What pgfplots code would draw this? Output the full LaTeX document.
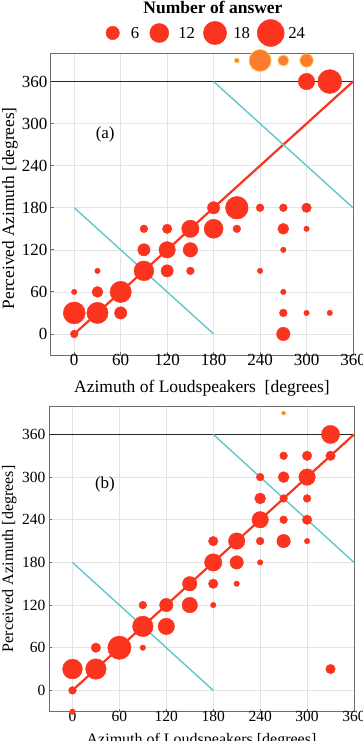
\documentclass[border=0pt]{standalone}
\usepackage{fontspec}
\setmainfont{Liberation Serif}
\usepackage{pgfplots}
\pgfplotsset{compat=1.18}
\usepackage{pgfplotstable}

\definecolor{bubred}{RGB}{250,52,30}
\definecolor{bubor}{RGB}{252,125,48}
\definecolor{bubedge}{RGB}{255,205,90}
\definecolor{cyanl}{RGB}{95,200,205}
\definecolor{boxg}{RGB}{110,110,110}
\definecolor{gridg}{RGB}{228,228,228}

% panel (a): loudspeaker azimuth, perceived azimuth, number of answers
\pgfplotstableread{
x y n
0 0 2
0 30 16
0 60 1
30 30 15
30 60 4
30 90 1
60 30 5
60 60 15
90 90 13
90 120 5
90 150 2
120 90 5
120 120 9
120 150 3
150 90 2
150 120 7
150 150 10
180 150 12
180 180 5
210 150 2
210 180 17
240 180 2
240 90 1
270 180 2
270 150 4
270 120 1
270 60 1
270 30 2
270 0 6
300 180 3
300 150 1
300 30 1
330 30 1
300 360 9
330 360 19
}\dataA
\pgfplotstableread{
x y n
210 390 0.8
240 390 16
270 390 4
300 390 6
}\dataAo

% panel (b)
\pgfplotstableread{
x y n
0 -30 1
0 0 2
0 30 13
30 30 14
30 60 3
60 60 18
90 60 1
90 90 14
90 120 2
120 90 9
120 120 6
150 120 8
150 150 7
180 120 1
180 150 3
180 180 10
180 210 3
210 150 1
210 180 6
210 210 9
240 180 1
240 210 2
240 240 9
240 270 4
240 300 2
270 210 6
270 240 2
270 270 2
270 300 4
270 330 2
300 210 1
300 240 3
300 270 2
300 300 9
300 330 3
330 330 3
330 360 11
330 30 3
}\dataB
\pgfplotstableread{
x y n
270 390 0.6
}\dataBo

\pgfplotsset{
  bub/.style 2 args={scatter, only marks, mark=*,
    scatter/use mapped color={draw=#1, fill=#2},
    visualization depends on={2.75*sqrt(\thisrow{n}) \as \msize},
    scatter/@pre marker code/.append style={/tikz/mark size=\msize}},
  common/.style={
    scale only axis, xmin=-30, xmax=360, ymin=-30, ymax=400,
    xtick={0,60,...,360}, ytick={0,60,...,360},
    grid=major, major grid style={gridg, line width=0.6pt},
    tick align=inside, tick pos=left, major tick length=3pt,
    axis line style={boxg, line width=1pt}, tick style={boxg, line width=0.8pt},
    clip=false,
    /pgf/number format/assume math mode=true,
  },
}

\begin{document}
\begin{tikzpicture}
\useasboundingbox (0pt,-741pt) rectangle (363pt,0pt);

% legend
\begin{axis}[at={(0pt,-40pt)}, anchor=south west, scale only axis,
  width=363pt, height=40pt, xmin=0, xmax=363, ymin=0, ymax=40,
  hide axis, clip=false]
\addplot[bub={bubred}{bubred}] table {
x y n
112.7 7 6
159.3 7 12
215 7 18
270.7 7 24
};
\addplot[draw=none, nodes near coords, point meta=explicit symbolic,
  nodes near coords style={anchor=center, font=\fontsize{16.7}{19}\selectfont}]
  table[meta=lab] {
x y lab
135 7 6
186.7 7 12
241.7 7 18
296.7 7 24
};
\node[font=\bfseries\fontsize{17.5}{20}\selectfont] at (axis cs:213,32.5) {Number of answer};
\end{axis}

% panel (a)
\begin{axis}[common, at={(51pt,-355pt)}, anchor=south west,
  width=302pt, height=301.5pt,
  ticklabel style={font=\fontsize{17}{20}\selectfont},
  xticklabel style={yshift=4.5pt},
  xlabel={Azimuth of Loudspeakers~ [degrees]},
  ylabel={Perceived Azimuth [degrees]},
  xlabel style={at={(axis description cs:0.5,-0.126)}, anchor=base, font=\fontsize{17.5}{20}\selectfont},
  ylabel style={at={(axis description cs:-0.1225,0.4867)}, anchor=base, font=\fontsize{17.3}{20}\selectfont},
]
\addplot[black!85, line width=1pt] coordinates {(-30,360) (360,360)};
\addplot[bubred, line width=2.2pt] coordinates {(0,0) (360,360)};
\addplot[cyanl, line width=1.4pt] coordinates {(0,180) (180,0)};
\addplot[cyanl, line width=1.4pt] coordinates {(180,360) (360,180)};
\addplot[bub={bubred}{bubred}] table {\dataA};
\addplot[bub={bubedge}{bubor}, line width=0.8pt] table {\dataAo};
\node[font=\fontsize{17}{20}\selectfont] at (axis cs:40,284) {(a)};
\end{axis}

% panel (b)
\begin{axis}[common, at={(49pt,-711.7pt)}, anchor=south west,
  width=305pt, height=305.7pt,
  ticklabel style={font=\fontsize{15.5}{18}\selectfont},
  xticklabel style={yshift=4pt},
  xlabel={Azimuth of Loudspeakers [degrees]},
  ylabel={Perceived Azimuth [degrees]},
  xlabel style={at={(axis description cs:0.5,-0.1057)}, anchor=base, font=\fontsize{16}{19}\selectfont},
  ylabel style={at={(axis description cs:-0.118,0.5)}, anchor=base, font=\fontsize{16}{19}\selectfont},
]
\addplot[black!85, line width=1pt] coordinates {(-30,360) (360,360)};
\addplot[bubred, line width=2.2pt] coordinates {(0,0) (360,360)};
\addplot[cyanl, line width=1.4pt] coordinates {(0,180) (180,0)};
\addplot[cyanl, line width=1.4pt] coordinates {(180,360) (360,180)};
\addplot[bub={bubred}{bubred}] table {\dataB};
\addplot[bub={bubedge}{bubor}, line width=0.6pt] table {\dataBo};
\node[font=\fontsize{17}{20}\selectfont] at (axis cs:41.6,290) {(b)};
\end{axis}
\end{tikzpicture}
\end{document}
